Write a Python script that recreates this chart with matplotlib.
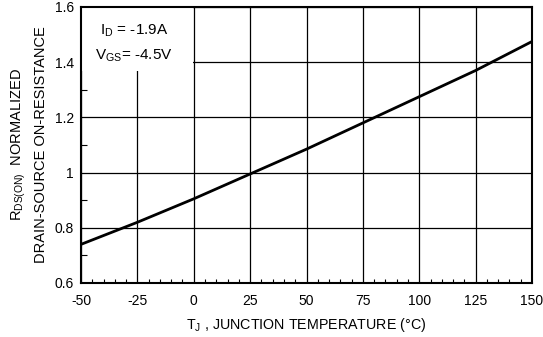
import numpy as np
import matplotlib
matplotlib.use("Agg")
import matplotlib.pyplot as plt
from matplotlib.ticker import MultipleLocator
from matplotlib.patches import Rectangle

plt.rcParams['font.family'] = ['Liberation Sans', 'DejaVu Sans']

# junction temperature (C) and normalized on-resistance
temp = [-50, -25, 0, 25, 50, 75, 100, 125, 150]
rds_norm = [0.74, 0.82, 0.905, 0.995, 1.085, 1.18, 1.275, 1.37, 1.475]

x_ticks = [-50, -25, 0, 25, 50, 75, 100, 125, 150]
x_labels = ["-50", "-25", "0", "25", "50", "75", "100", "125", "150"]
y_ticks = [0.6, 0.8, 1.0, 1.2, 1.4, 1.6]
y_labels = ["0.6", "0.8", "1", "1.2", "1.4", "1.6"]

fig = plt.figure(figsize=(5.43, 3.37), dpi=100)
ax = fig.add_axes([81 / 543, 1 - 283 / 337, 451 / 543, 276 / 337])

ax.set_xlim(-50, 150)
ax.set_ylim(0.6, 1.6)
ax.set_xticks(x_ticks)
ax.set_xticklabels(x_labels)
ax.set_yticks(y_ticks)
ax.set_yticklabels(y_labels)
ax.xaxis.set_minor_locator(MultipleLocator(5))
ax.yaxis.set_minor_locator(MultipleLocator(0.1))
ax.tick_params(which='major', direction='in', length=0, labelsize=10)
ax.tick_params(axis='x', which='major', pad=8)
ax.tick_params(axis='y', which='major', pad=5)
ax.tick_params(which='minor', direction='in', length=3, width=0.8)
ax.tick_params(axis='y', which='minor', length=4)
ax.grid(True, which='major', color='black', linewidth=0.9)
for s in ax.spines.values():
    s.set_linewidth(1.5)

ax.plot(temp, rds_norm, color='black', linewidth=2, zorder=3)

# white box behind the condition text
ax.add_patch(Rectangle((0, 1 - 64 / 276), 112 / 451, 64 / 276, transform=ax.transAxes,
                       facecolor='white', edgecolor='none', zorder=2.5))
ax.text(0.042, 0.915, "I$_\\mathregular{D}$ = -1.9A", transform=ax.transAxes,
        fontsize=11, va='center', ha='left', zorder=4)
ax.text(0.03, 0.825, "V$_\\mathregular{GS}$= -4.5V", transform=ax.transAxes,
        fontsize=11, va='center', ha='left', zorder=4)

ax.set_xlabel("T$_\\mathregular{J}$ , JUNCTION TEMPERATURE (°C)", fontsize=10.3, labelpad=6)
ax.set_ylabel("R$_\\mathregular{DS(ON)}$  NORMALIZED\nDRAIN-SOURCE ON-RESISTANCE",
              fontsize=10.5, labelpad=5, linespacing=1.5)

fig.savefig("out.png", dpi=100)
